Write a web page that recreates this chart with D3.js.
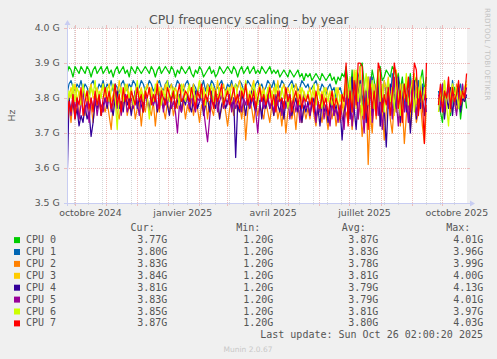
<!DOCTYPE html>
<html><head><meta charset="utf-8">
<script src="https://cdn.jsdelivr.net/npm/d3@7"></script>
<style>body{margin:0;background:#f0f0f0}svg{display:block}</style>
</head><body><svg id="c" width="497" height="359"></svg>
<script>
// ---- data ----
const seriesNames = ["CPU 0","CPU 1","CPU 2","CPU 3","CPU 4","CPU 5","CPU 6","CPU 7"];
const seriesColors = ["#00CC00","#0066B3","#FF8000","#FFCC00","#330099","#990099","#CCFF00","#FF0000"];
const curLabels = ["3.77G","3.80G","3.83G","3.84G","3.81G","3.83G","3.85G","3.87G"];
const minLabels = ["1.20G","1.20G","1.20G","1.20G","1.20G","1.20G","1.20G","1.20G"];
const avgLabels = ["3.87G","3.83G","3.78G","3.81G","3.79G","3.79G","3.81G","3.80G"];
const maxLabels = ["4.01G","3.96G","3.99G","4.00G","4.13G","4.01G","3.97G","4.03G"];
const monthTickLabels = ["octobre 2024","janvier 2025","avril 2025","juillet 2025","octobre 2025"];
const monthTickDates = ["2024-10-01","2025-01-01","2025-04-01","2025-07-01","2025-10-01"];
const yTickValues = [3.5,3.6,3.7,3.8,3.9,4.0];
const yTickLabels = ["3.5 G","3.6 G","3.7 G","3.8 G","3.9 G","4.0 G"];
const firstSample = "2024-09-22T16:00:00"; // one sample every 2 days
const stepDays = 2;

const cpu0 = [3.87,3.89,3.88,3.86,3.89,3.88,3.87,3.89,3.88,3.87,3.89,3.88,3.86,3.88,3.89,3.87,3.88,3.89,3.87,3.88,
3.89,3.87,3.88,3.86,3.88,3.89,3.87,3.88,3.89,3.87,3.88,3.86,3.89,3.88,3.87,3.89,3.88,3.87,3.88,3.89,
3.88,3.87,3.89,3.88,3.86,3.88,3.89,3.87,3.88,3.89,3.88,3.87,3.89,3.88,3.86,3.88,3.87,3.89,3.88,3.87,
3.88,3.89,3.87,3.86,3.88,3.87,3.89,3.88,3.86,3.87,3.88,3.89,3.87,3.88,3.86,3.87,3.89,3.88,3.87,3.88,
3.89,3.88,3.87,3.89,3.88,3.86,3.88,3.89,3.87,3.88,3.89,3.87,3.88,3.89,3.87,3.88,3.87,3.89,3.88,3.87,
3.88,3.89,3.87,3.88,3.87,3.88,3.86,3.87,3.88,3.87,3.86,3.88,3.87,3.86,3.87,3.88,3.86,3.87,3.85,3.87,
3.86,3.87,3.85,3.86,3.87,3.86,3.85,3.87,3.86,3.85,3.86,3.87,3.85,3.86,3.84,3.86,3.85,3.87,3.86,3.89,
3.84,3.80,3.88,3.78,3.86,3.82,3.89,3.90,3.84,3.79,3.86,3.83,3.88,3.85,3.80,3.87,3.89,3.85,3.86,3.88,
3.87,3.86,3.89,3.88,3.85,3.87,3.82,3.86,3.80,3.85,3.83,3.87,3.79,3.84,3.86,3.81,3.85,3.88,3.82,3.86,
null,null,null,null,null,3.80,3.76,3.73,3.82,3.78,3.84,3.75,3.80,3.83,3.77,3.81,3.74,3.79,3.82,3.77];

const cpu1 = [3.81,3.84,3.85,3.83,3.82,3.84,3.83,3.85,3.82,3.84,3.83,3.81,3.84,3.85,3.83,3.82,3.84,3.83,3.85,3.82,
3.84,3.83,3.85,3.82,3.84,3.83,3.81,3.84,3.85,3.83,3.82,3.84,3.83,3.85,3.84,3.82,3.83,3.85,3.84,3.82,
3.83,3.85,3.84,3.82,3.83,3.84,3.85,3.83,3.82,3.84,3.85,3.83,3.84,3.82,3.83,3.85,3.84,3.83,3.82,3.84,
3.85,3.83,3.82,3.84,3.83,3.81,3.84,3.83,3.85,3.82,3.84,3.83,3.85,3.84,3.82,3.83,3.84,3.85,3.83,3.82,
3.84,3.83,3.85,3.82,3.84,3.83,3.85,3.84,3.82,3.83,3.85,3.84,3.83,3.82,3.84,3.85,3.83,3.84,3.82,3.83,
3.85,3.84,3.83,3.85,3.82,3.84,3.83,3.85,3.84,3.82,3.83,3.84,3.85,3.83,3.84,3.82,3.83,3.85,3.84,3.83,
3.84,3.82,3.83,3.84,3.85,3.83,3.82,3.84,3.83,3.81,3.83,3.84,3.82,3.83,3.80,3.82,3.83,3.81,3.79,3.84,
3.78,3.85,3.76,3.83,3.80,3.86,3.88,3.79,3.82,3.75,3.84,3.80,3.86,3.78,3.83,3.87,3.81,3.76,3.85,3.82,
3.84,3.79,3.87,3.82,3.76,3.85,3.80,3.83,3.77,3.84,3.81,3.86,3.78,3.83,3.80,3.85,3.79,3.84,3.82,3.80,
null,null,null,null,null,3.82,3.79,3.84,3.77,3.81,3.83,3.78,3.85,3.80,3.76,3.82,3.84,3.79,3.81,3.80];

const cpu2 = [3.74,3.78,3.73,3.80,3.76,3.79,3.74,3.81,3.77,3.75,3.80,3.76,3.78,3.73,3.79,3.77,3.81,3.75,3.78,3.76,
3.79,3.75,3.71,3.78,3.80,3.76,3.74,3.79,3.77,3.81,3.75,3.78,3.76,3.80,3.74,3.77,3.79,3.72,3.78,3.76,
3.80,3.77,3.75,3.79,3.72,3.78,3.76,3.81,3.77,3.74,3.79,3.76,3.80,3.75,3.78,3.77,3.81,3.76,3.79,3.74,
3.78,3.76,3.80,3.75,3.79,3.77,3.73,3.78,3.76,3.80,3.74,3.79,3.77,3.75,3.80,3.78,3.74,3.77,3.79,3.76,
3.72,3.77,3.79,3.75,3.80,3.76,3.78,3.74,3.79,3.68,3.76,3.80,3.77,3.73,3.79,3.75,3.78,3.76,3.74,3.79,
3.76,3.73,3.78,3.75,3.79,3.74,3.77,3.72,3.78,3.70,3.76,3.79,3.74,3.77,3.71,3.78,3.75,3.73,3.77,3.74,
3.77,3.74,3.79,3.75,3.72,3.78,3.76,3.73,3.79,3.75,3.71,3.77,3.74,3.78,3.72,3.76,3.73,3.79,3.74,3.76,
3.73,3.80,3.71,3.77,3.86,3.74,3.78,3.69,3.75,3.82,3.61,3.76,3.70,3.80,3.74,3.85,3.72,3.78,3.68,3.76,
3.81,3.74,3.70,3.79,3.76,3.83,3.72,3.78,3.67,3.75,3.82,3.71,3.77,3.80,3.73,3.76,3.79,3.72,3.67,3.78,
null,null,null,null,null,3.80,3.77,3.83,3.75,3.79,3.82,3.76,3.81,3.78,3.84,3.77,3.80,3.79,3.82,3.83];

const cpu3 = [3.78,3.80,3.83,3.81,3.84,3.79,3.82,3.80,3.83,3.81,3.78,3.82,3.84,3.80,3.81,3.83,3.79,3.82,3.84,3.80,
3.82,3.84,3.79,3.81,3.83,3.80,3.85,3.81,3.78,3.82,3.84,3.80,3.83,3.79,3.82,3.84,3.81,3.83,3.80,3.82,
3.84,3.81,3.83,3.79,3.82,3.85,3.80,3.83,3.81,3.84,3.79,3.82,3.84,3.80,3.83,3.81,3.78,3.82,3.84,3.81,
3.80,3.83,3.81,3.84,3.79,3.82,3.85,3.81,3.83,3.80,3.84,3.82,3.79,3.83,3.81,3.85,3.80,3.82,3.84,3.81,
3.83,3.80,3.84,3.82,3.79,3.83,3.85,3.80,3.82,3.84,3.81,3.79,3.83,3.85,3.80,3.82,3.84,3.81,3.83,3.79,
3.82,3.84,3.80,3.83,3.81,3.85,3.79,3.82,3.84,3.80,3.83,3.81,3.78,3.82,3.84,3.80,3.83,3.79,3.82,3.80,
3.81,3.83,3.79,3.82,3.78,3.84,3.80,3.82,3.79,3.83,3.81,3.77,3.82,3.80,3.78,3.83,3.79,3.81,3.76,3.86,
3.75,3.84,3.79,3.88,3.77,3.82,3.89,3.74,3.83,3.79,3.86,3.73,3.81,3.84,3.77,3.88,3.80,3.75,3.85,3.82,
3.86,3.78,3.83,3.75,3.88,3.80,3.84,3.77,3.82,3.86,3.79,3.74,3.83,3.87,3.78,3.81,3.85,3.76,3.83,3.80,
null,null,null,null,null,3.78,3.83,3.80,3.85,3.77,3.82,3.79,3.84,3.81,3.76,3.83,3.80,3.82,3.79,3.84];

const cpu4 = [3.54,3.80,3.76,3.79,3.74,3.77,3.72,3.75,3.73,3.78,3.74,3.76,3.69,3.73,3.79,3.77,3.81,3.75,3.78,3.80,
3.77,3.81,3.78,3.75,3.80,3.82,3.77,3.79,3.76,3.81,3.78,3.80,3.75,3.79,3.82,3.77,3.80,3.78,3.76,3.81,
3.79,3.77,3.81,3.78,3.80,3.76,3.82,3.79,3.77,3.81,3.78,3.75,3.80,3.82,3.77,3.79,3.81,3.76,3.80,3.78,
3.81,3.78,3.76,3.80,3.82,3.77,3.79,3.81,3.75,3.78,3.80,3.76,3.82,3.79,3.77,3.81,3.74,3.78,3.80,3.77,
3.79,3.81,3.77,3.80,3.63,3.78,3.76,3.81,3.79,3.75,3.80,3.77,3.82,3.78,3.76,3.80,3.79,3.74,3.81,3.77,
3.80,3.77,3.79,3.75,3.81,3.78,3.76,3.80,3.74,3.79,3.77,3.81,3.75,3.78,3.80,3.76,3.79,3.73,3.78,3.76,
3.79,3.75,3.78,3.80,3.74,3.77,3.72,3.79,3.76,3.78,3.73,3.77,3.80,3.75,3.78,3.74,3.77,3.68,3.76,3.79,
3.82,3.74,3.86,3.77,3.71,3.80,3.85,3.76,3.82,3.73,3.79,3.84,3.75,3.81,3.78,3.86,3.72,3.80,3.77,3.66,
3.79,3.84,3.75,3.81,3.77,3.86,3.73,3.80,3.83,3.76,3.82,3.70,3.79,3.85,3.74,3.81,3.77,3.83,3.75,3.80,
null,null,null,null,null,3.79,3.76,3.82,3.74,3.80,3.77,3.83,3.75,3.81,3.78,3.84,3.76,3.80,3.79,3.81];

const cpu5 = [3.76,3.79,3.75,3.81,3.77,3.80,3.74,3.78,3.82,3.76,3.79,3.73,3.80,3.77,3.81,3.75,3.79,3.78,3.76,3.80,
3.78,3.81,3.76,3.79,3.82,3.77,3.80,3.75,3.79,3.81,3.76,3.78,3.80,3.77,3.82,3.79,3.75,3.80,3.78,3.81,
3.79,3.76,3.80,3.78,3.81,3.77,3.79,3.82,3.76,3.80,3.78,3.81,3.77,3.79,3.76,3.70,3.78,3.76,3.81,3.79,
3.80,3.77,3.81,3.78,3.76,3.80,3.79,3.82,3.77,3.72,3.675,3.74,3.80,3.78,3.82,3.76,3.79,3.81,3.77,3.80,
3.78,3.81,3.76,3.80,3.77,3.79,3.82,3.76,3.80,3.78,3.81,3.77,3.79,3.80,3.76,3.70,3.78,3.81,3.77,3.79,
3.81,3.77,3.79,3.76,3.80,3.78,3.82,3.75,3.79,3.77,3.81,3.74,3.78,3.80,3.76,3.79,3.73,3.78,3.81,3.77,
3.78,3.75,3.80,3.77,3.73,3.79,3.76,3.81,3.74,3.78,3.76,3.72,3.79,3.75,3.77,3.73,3.78,3.75,3.71,3.80,
3.76,3.83,3.72,3.79,3.85,3.74,3.81,3.77,3.70,3.82,3.78,3.86,3.73,3.79,3.84,3.75,3.81,3.71,3.78,3.83,
3.77,3.82,3.74,3.86,3.79,3.72,3.81,3.84,3.76,3.80,3.73,3.85,3.78,3.82,3.75,3.79,3.84,3.77,3.81,3.76,
null,null,null,null,null,3.81,3.78,3.84,3.76,3.80,3.83,3.77,3.82,3.79,3.75,3.81,3.78,3.84,3.80,3.83];

const cpu6 = [3.77,3.82,3.80,3.84,3.79,3.83,3.81,3.78,3.84,3.80,3.82,3.79,3.83,3.81,3.85,3.78,3.82,3.80,3.84,3.81,
3.83,3.79,3.82,3.84,3.80,3.71,3.81,3.83,3.79,3.84,3.82,3.80,3.83,3.78,3.81,3.85,3.80,3.82,3.79,3.83,
3.80,3.74,3.82,3.79,3.84,3.81,3.83,3.78,3.82,3.80,3.85,3.79,3.81,3.83,3.80,3.82,3.78,3.84,3.81,3.79,
3.82,3.84,3.80,3.83,3.79,3.81,3.85,3.80,3.82,3.78,3.83,3.81,3.84,3.79,3.82,3.80,3.83,3.81,3.78,3.82,
3.81,3.83,3.79,3.82,3.84,3.80,3.78,3.83,3.81,3.85,3.79,3.82,3.80,3.84,3.81,3.78,3.83,3.80,3.82,3.79,
3.83,3.80,3.82,3.78,3.84,3.81,3.79,3.83,3.80,3.82,3.77,3.81,3.84,3.79,3.82,3.80,3.78,3.83,3.81,3.79,
3.82,3.79,3.81,3.84,3.78,3.82,3.80,3.77,3.83,3.81,3.79,3.82,3.78,3.80,3.83,3.77,3.81,3.79,3.82,3.85,
3.80,3.86,3.76,3.83,3.88,3.79,3.84,3.75,3.82,3.87,3.78,3.81,3.85,3.77,3.83,3.88,3.79,3.84,3.76,3.82,
3.85,3.79,3.83,3.77,3.86,3.81,3.75,3.84,3.80,3.87,3.78,3.82,3.85,3.76,3.83,3.80,3.86,3.78,3.82,3.84,
null,null,null,null,null,3.76,3.82,3.79,3.85,3.78,3.72,3.81,3.84,3.79,3.83,3.77,3.82,3.80,3.83,3.85];

const cpu7 = [3.72,3.79,3.76,3.81,3.74,3.80,3.78,3.83,3.75,3.79,3.82,3.77,3.80,3.76,3.82,3.78,3.81,3.75,3.80,3.83,
3.79,3.82,3.77,3.80,3.84,3.78,3.81,3.76,3.83,3.79,3.81,3.77,3.82,3.80,3.78,3.83,3.79,3.81,3.76,3.82,
3.80,3.83,3.78,3.81,3.79,3.84,3.77,3.82,3.80,3.78,3.83,3.81,3.79,3.82,3.77,3.81,3.84,3.79,3.80,3.82,
3.81,3.79,3.83,3.80,3.77,3.82,3.80,3.84,3.78,3.81,3.79,3.83,3.80,3.77,3.82,3.79,3.81,3.84,3.78,3.80,
3.82,3.78,3.80,3.83,3.79,3.81,3.77,3.82,3.80,3.84,3.78,3.81,3.79,3.82,3.77,3.80,3.83,3.79,3.81,3.78,
3.80,3.83,3.78,3.81,3.76,3.82,3.79,3.80,3.77,3.83,3.79,3.81,3.76,3.80,3.82,3.78,3.81,3.77,3.80,3.79,
3.81,3.78,3.80,3.76,3.82,3.79,3.77,3.81,3.78,3.80,3.75,3.79,3.82,3.77,3.80,3.78,3.74,3.81,3.79,3.90,
3.72,3.82,3.76,3.85,3.78,3.90,3.90,3.89,3.74,3.80,3.71,3.84,3.77,3.82,3.75,3.90,3.88,3.76,3.81,3.78,
3.83,3.75,3.81,3.90,3.86,3.77,3.82,3.73,3.84,3.79,3.86,3.76,3.81,3.90,3.88,3.75,3.82,3.79,3.67,3.90,
null,null,null,null,null,3.78,3.84,3.76,3.82,3.80,3.86,3.77,3.83,3.79,3.81,3.85,3.78,3.82,3.80,3.87];

const seriesValues = [cpu0,cpu1,cpu2,cpu3,cpu4,cpu5,cpu6,cpu7];

// ---- layout ----
const W = 497, H = 359;
const X0 = 67, X1 = 467, YT = 28, YB = 203;
const textCol = "#555";
const axisCol = "#c8cdf2";
const mgridCol = "#ecbcbc";
const gridCol = "#d6d6d6";

const svg = d3.select("#c");
svg.append("rect").attr("width",W).attr("height",H).attr("fill","#f0f0f0");
svg.append("rect").attr("x",X0).attr("y",YT).attr("width",X1-X0).attr("height",YB-YT).attr("fill","#fff");

const t0 = new Date(firstSample);
const tEnd = new Date("2025-10-26T02:00:00");
const x = d3.scaleTime().domain([t0, tEnd]).range([X0, X1]);
const y = d3.scaleLinear().domain([3.5, 4.0]).range([YB, YT]);

// minor grid: every 2 weeks (Mondays)
const mondays = d3.timeMonday.range(new Date("2024-09-30T00:00:00"), tEnd);
const minorDates = mondays.filter((d,i) => i % 2 === 0);
const majorDates = d3.timeMonth.range(new Date("2024-10-01T00:00:00"), tEnd);
const majorKeys = new Set(majorDates.map(d => Math.round(x(d))));

const g = svg.append("g");
minorDates.forEach(d => {
  const px = Math.round(x(d)) + 0.5;
  if (majorKeys.has(Math.round(x(d)))) return;
  g.append("line").attr("x1",px).attr("x2",px).attr("y1",YT).attr("y2",YB)
    .attr("stroke",gridCol).attr("stroke-dasharray","1,1");
  g.append("line").attr("x1",px).attr("x2",px).attr("y1",YB).attr("y2",YB+2).attr("stroke",gridCol);
  g.append("line").attr("x1",px).attr("x2",px).attr("y1",YT-2).attr("y2",YT).attr("stroke",gridCol);
});
majorDates.forEach(d => {
  const px = Math.round(x(d)) + 0.5;
  g.append("line").attr("x1",px).attr("x2",px).attr("y1",YT).attr("y2",YB)
    .attr("stroke",mgridCol).attr("stroke-dasharray","1,1");
  g.append("line").attr("x1",px).attr("x2",px).attr("y1",YB).attr("y2",YB+3).attr("stroke",mgridCol);
  g.append("line").attr("x1",px).attr("x2",px).attr("y1",YT-3).attr("y2",YT).attr("stroke",mgridCol);
});
yTickValues.forEach(v => {
  const py = Math.round(y(v)) + 0.5;
  g.append("line").attr("x1",X0).attr("x2",X1).attr("y1",py).attr("y2",py)
    .attr("stroke",mgridCol).attr("stroke-dasharray","1,1");
  g.append("line").attr("x1",X0-3).attr("x2",X0).attr("y1",py).attr("y2",py).attr("stroke",mgridCol);
  g.append("line").attr("x1",X1).attr("x2",X1+3).attr("y1",py).attr("y2",py).attr("stroke",mgridCol);
});

// lines
svg.append("clipPath").attr("id","clip").append("rect")
  .attr("x",X0).attr("y",YT).attr("width",X1-X0+1).attr("height",YB-YT);
const dates = cpu0.map((_, i) => d3.timeDay.offset(t0, i*stepDays));
const line = d3.line().defined(d => d[1] != null).x(d => x(d[0])).y(d => y(d[1]));
const lg = svg.append("g").attr("clip-path","url(#clip)");
seriesValues.forEach((vals, k) => {
  lg.append("path").datum(vals.map((v,i) => [dates[i], v]))
    .attr("d", line).attr("fill","none").attr("stroke",seriesColors[k])
    .attr("stroke-width",1.25).attr("stroke-linejoin","round");
});

// axes
svg.append("line").attr("x1",X0+0.5).attr("x2",X0+0.5).attr("y1",YB+3).attr("y2",YT-5).attr("stroke",axisCol);
svg.append("line").attr("x1",X0-3).attr("x2",X1+4).attr("y1",YB+0.5).attr("y2",YB+0.5).attr("stroke",axisCol);
svg.append("path").attr("d",`M${X0-2.5},${YT-3} L${X0+0.5},${YT-8} L${X0+3.5},${YT-3} Z`).attr("fill",axisCol);
svg.append("path").attr("d",`M${X1+3},${YB-2.5} L${X1+8},${YB+0.5} L${X1+3},${YB+3.5} Z`).attr("fill",axisCol);

const sans = "DejaVu Sans, sans-serif";
const mono = "DejaVu Sans Mono, monospace";

// y labels
yTickValues.forEach((v, i) => {
  svg.append("text").attr("x",59.8).attr("y",y(v)+3.4).attr("text-anchor","end")
    .attr("font-family",sans).attr("font-size",9.4).attr("fill",textCol).text(yTickLabels[i]);
});
// x labels
monthTickDates.forEach((ds, i) => {
  const d = d3.timeDay.offset(new Date(ds+"T00:00:00"), 15);
  svg.append("text").attr("x",x(d)).attr("y",215.5).attr("text-anchor","middle")
    .attr("font-family",sans).attr("font-size",9.4).attr("fill",textCol).text(monthTickLabels[i]);
});

// title
svg.append("text").attr("x",248.8).attr("y",24).attr("text-anchor","middle")
  .attr("font-family",sans).attr("font-size",12.5).attr("fill",textCol).text("CPU frequency scaling - by year");
// y axis title
svg.append("text").attr("transform","translate(15,115.5) rotate(-90)").attr("text-anchor","middle")
  .attr("font-family",sans).attr("font-size",9.4).attr("fill",textCol).text("Hz");
// watermark
svg.append("text").attr("transform","translate(485,8) rotate(90)")
  .attr("font-family",sans).attr("font-size",7.2).attr("fill","#c4c4c4").text("RRDTOOL / TOBI OETIKER");

// legend
const hdrY = 231.2, rowH = 11.9;
[["Cur:",130.6],["Min:",236.2],["Avg:",341.8],["Max:",446.2]].forEach(([t,px]) => {
  svg.append("text").attr("x",px).attr("y",hdrY).attr("font-family",mono).attr("font-size",10)
    .attr("fill",textCol).text(t);
});
const colX = [167.4, 273.4, 378.4, 483.4];
seriesNames.forEach((name, k) => {
  const by = hdrY + rowH*(k+1);
  svg.append("rect").attr("x",14).attr("y",by-6).attr("width",6).attr("height",6).attr("fill",seriesColors[k]);
  svg.append("text").attr("x",26).attr("y",by).attr("font-family",mono).attr("font-size",10)
    .attr("fill",textCol).text(name);
  [curLabels[k],minLabels[k],avgLabels[k],maxLabels[k]].forEach((t, j) => {
    svg.append("text").attr("x",colX[j]).attr("y",by).attr("text-anchor","end")
      .attr("font-family",mono).attr("font-size",10).attr("fill",textCol).text(t);
  });
});
svg.append("text").attr("x",483).attr("y",hdrY + rowH*9).attr("text-anchor","end")
  .attr("font-family",mono).attr("font-size",10).attr("fill",textCol)
  .text("Last update: Sun Oct 26 02:00:20 2025");
svg.append("text").attr("x",248).attr("y",351.5).attr("text-anchor","middle")
  .attr("font-family",sans).attr("font-size",7.5).attr("fill","#c8c8c8").text("Munin 2.0.67");
</script></body></html>
